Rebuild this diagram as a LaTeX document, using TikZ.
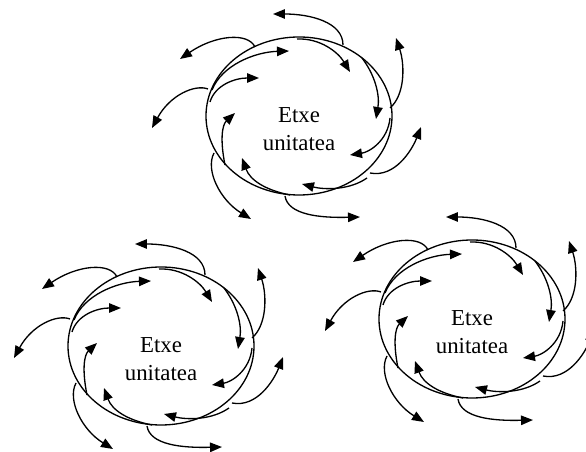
\documentclass[tikz,border=0pt]{standalone}
\usepackage{fontspec}
\setmainfont{Liberation Serif}
\usetikzlibrary{arrows.meta}

\begin{document}
\begin{tikzpicture}[x=0.02cm, y=-0.02cm, line width=0.75pt,
    flow/.style={-{Triangle[length=2.4mm,width=1.9mm]}},
    unitlabel/.style={align=center, font=\fontsize{13}{16}\selectfont}]
    \useasboundingbox (0,0) rectangle (586,452);
    \clip (0,0) rectangle (586,452);
    \foreach \dx/\dy/\n in {0/0/A, -138/230/B, 173/203/C} {
    \begin{scope}[shift={(\dx,\dy)}]
    \coordinate (Center\n) at (299,116);
    \draw (Center\n) ellipse (93 and 79);
    \node[unitlabel] (Unit\n) at (299,129) {Etxe\\unitatea};
    % outward
    \draw[flow] (343,45) .. controls (343,22) and (310,14) .. (273,14);
    \draw[flow] (255,47) .. controls (248,32) and (215,35) .. (180,59);
    \draw[flow] (208,89) .. controls (195,84) and (170,95) .. (152,128);
    \draw[flow] (214,153) .. controls (205,170) and (220,200) .. (251,219);
    \draw[flow] (285,196) .. controls (288,215) and (320,218) .. (360,217);
    \draw[flow] (370,173) .. controls (395,178) and (412,150) .. (421,127);
    \draw[flow] (390,108) .. controls (405,95) and (405,65) .. (396,38);
    % inward
    \draw[flow] (297,39) .. controls (320,38) and (338,52) .. (350,72);
    \draw[flow] (362,58) .. controls (375,75) and (380,95) .. (376,119);
    \draw[flow] (390,118) .. controls (388,140) and (370,152) .. (350,155);
    \draw[flow] (367,178) .. controls (350,190) and (325,190) .. (302,184);
    \draw[flow] (290,195) .. controls (265,190) and (250,180) .. (242,158);
    \draw[flow] (225,165) .. controls (220,140) and (222,125) .. (235,113);
    \draw[flow] (210,102) .. controls (215,85) and (235,78) .. (259,78);
    \draw[flow] (212,90) .. controls (222,65) and (255,52) .. (289,51);
    \end{scope}}
\end{tikzpicture}
\end{document}
